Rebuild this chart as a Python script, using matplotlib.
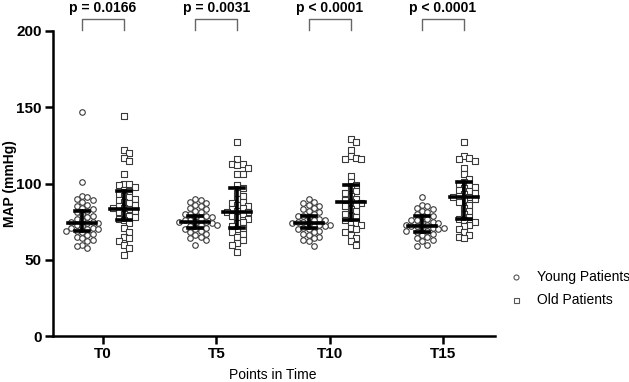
import numpy as np
import matplotlib
matplotlib.use('Agg')
import matplotlib.pyplot as plt
from matplotlib.lines import Line2D

plt.rcParams['font.family'] = ['Liberation Sans', 'DejaVu Sans']

times = ['T0', 'T5', 'T10', 'T15']
p_labels = ['p = 0.0166', 'p = 0.0031', 'p < 0.0001', 'p < 0.0001']

young = [
    [147, 101, 92, 91, 90, 89, 88, 86, 85, 84, 83, 82, 81, 80, 79, 78, 77, 76, 75, 75,
     74, 74, 73, 72, 71, 71, 70, 70, 69, 69, 68, 67, 66, 65, 64, 63, 62, 60, 59, 58],
    [90, 89, 88, 87, 86, 85, 84, 83, 82, 81, 80, 80, 79, 78, 78, 77, 76, 76, 75, 75,
     74, 74, 73, 73, 72, 71, 70, 70, 69, 68, 67, 66, 65, 64, 63, 60],
    [90, 88, 87, 86, 85, 84, 83, 82, 81, 80, 79, 79, 78, 77, 76, 76, 75, 75, 74, 74,
     73, 73, 72, 72, 71, 70, 70, 69, 68, 67, 66, 65, 64, 63, 62, 59],
    [91, 86, 85, 84, 83, 82, 81, 80, 79, 78, 77, 76, 76, 75, 74, 74, 73, 73, 72, 72,
     71, 71, 70, 70, 69, 69, 68, 67, 66, 65, 64, 63, 62, 60, 59],
]
old = [
    [144, 122, 120, 117, 115, 106, 100, 100, 99, 98, 96, 95, 93, 92, 91, 90, 89, 88, 87, 86,
     85, 84, 84, 83, 82, 81, 80, 79, 78, 77, 76, 74, 71, 68, 65, 64, 62, 60, 58, 53],
    [127, 116, 113, 113, 112, 110, 106, 106, 99, 97, 94, 92, 90, 88, 87, 86, 85, 84, 83, 82,
     81, 81, 80, 79, 78, 77, 75, 74, 72, 71, 70, 68, 67, 65, 63, 61, 60, 55],
    [129, 127, 122, 118, 117, 116, 116, 105, 101, 99, 97, 95, 94, 92, 90, 89, 88, 87, 86, 85,
     83, 82, 80, 79, 78, 76, 75, 74, 73, 71, 70, 68, 66, 64, 62, 60],
    [127, 118, 117, 116, 115, 110, 106, 103, 101, 100, 99, 98, 97, 96, 95, 94, 93, 92, 91, 91,
     90, 89, 88, 86, 84, 82, 80, 78, 77, 76, 75, 73, 72, 70, 68, 66, 65, 64],
]

young_med = [74, 75, 74, 72]
young_q1 = [69, 71, 71, 68]
young_q3 = [82, 79, 79, 79]
old_med = [83, 81, 88, 91]
old_q1 = [76, 71, 76, 77]
old_q3 = [95, 97, 99, 101]

W, H = 629, 382
fig = plt.figure(figsize=(W / 100, H / 100), dpi=100)
ax = fig.add_axes([53 / W, (H - 336) / H, (495 - 53) / W, (336 - 31) / H])
ax.set_xlim(-0.441, 3.459)
ax.set_ylim(0, 200)

px_x = (495 - 53) / 3.9      # pixels per x unit
px_y = (336 - 31) / 200.0    # pixels per y unit


def swarm(vals, d=5.4):
    placed = []
    offs = []
    for v in vals:
        y = v * px_y
        cands = [0]
        for i in range(1, 40):
            cands += [i * d * 0.5, -i * d * 0.5]
        for c in cands:
            if all((c - px) ** 2 + (y - py) ** 2 >= d * d for px, py in placed):
                break
        placed.append((c, y))
        offs.append(c / px_x)
    return np.array(offs)


off = 21 / px_x
for i in range(4):
    for vals, sign, mk, med, q1, q3 in [(young[i], -1, 'o', young_med, young_q1, young_q3),
                                         (old[i], 1, 's', old_med, old_q1, old_q3)]:
        xc = i + sign * off
        xs = xc + swarm(vals)
        ax.scatter(xs, vals, marker=mk, s=16 if mk == 'o' else 14, facecolors='white',
                   edgecolors='#3a3a3a', linewidths=0.8, zorder=2)
        mw = 14 / px_x
        cw = 7 / px_x
        ax.plot([xc - mw, xc + mw], [med[i], med[i]], color='black', lw=2.6, zorder=3)
        ax.plot([xc, xc], [q1[i], q3[i]], color='black', lw=2.6, zorder=3)
        ax.plot([xc - cw, xc + cw], [q1[i], q1[i]], color='black', lw=2.6, zorder=3)
        ax.plot([xc - cw, xc + cw], [q3[i], q3[i]], color='black', lw=2.6, zorder=3)
    # significance bracket
    ax.plot([i - off, i - off, i + off, i + off], [200.6, 208, 208, 200.6],
            color='#666666', lw=1, clip_on=False)
    ax.text(i, 219.5, p_labels[i], ha='center', va='top', fontsize=10,
            fontweight='bold', clip_on=False)

ax.set_xticks(range(4))
ax.set_xticklabels(times, fontweight='bold', fontsize=11)
ax.set_yticks([0, 50, 100, 150, 200])
ax.set_yticklabels(['0', '50', '100', '150', '200'], fontweight='bold', fontsize=11)
ax.tick_params(width=1.8, length=6, pad=2)
for s in ['top', 'right']:
    ax.spines[s].set_visible(False)
for s in ['left', 'bottom']:
    ax.spines[s].set_linewidth(1.8)

ax.set_ylabel('MAP (mmHg)', fontweight='bold', fontsize=10)
ax.yaxis.set_label_coords(-(53 - 17) / (495 - 53), 0.5)
ax.set_xlabel('Points in Time', fontsize=10)
ax.xaxis.set_label_coords((273 - 53) / (495 - 53), -(368 - 336) / (336 - 31))

# legend drawn by hand in figure pixels
for ypix, mk, label in [(277, 'o', 'Young Patients'), (300, 's', 'Old Patients')]:
    fig.add_artist(Line2D([516 / W], [1 - ypix / H], marker=mk, markersize=3.6,
                          markerfacecolor='white', markeredgecolor='#555555',
                          markeredgewidth=0.8, linestyle='none'))
    fig.text(537 / W, 1 - ypix / H, label, fontsize=10, va='center', ha='left')

fig.savefig('out.png', dpi=100)
